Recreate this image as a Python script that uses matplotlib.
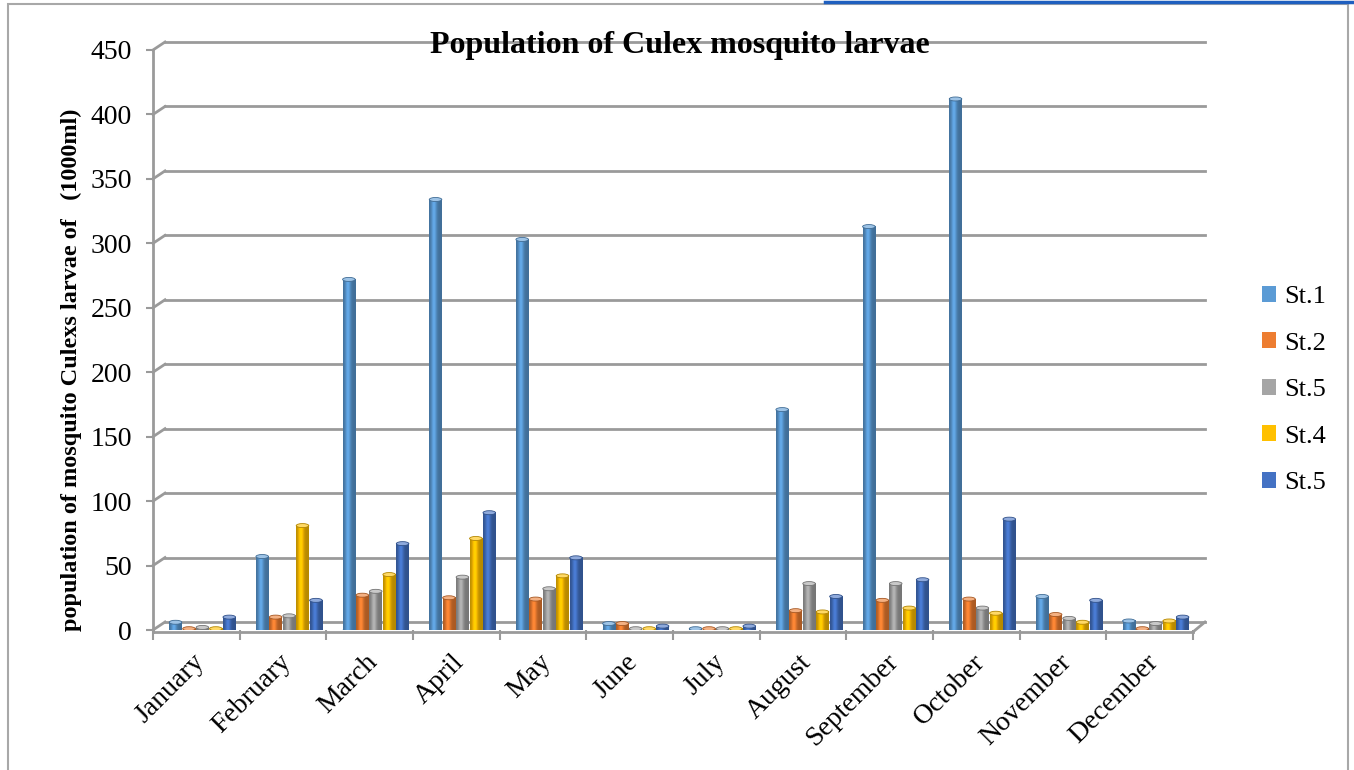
import matplotlib
matplotlib.use('Agg')
import matplotlib.pyplot as plt
import numpy as np
from matplotlib.patches import Ellipse, Rectangle, Patch
from matplotlib.lines import Line2D

plt.rcParams['font.family'] = ['Liberation Serif', 'DejaVu Serif']

months = ['January', 'February', 'March', 'April', 'May', 'June', 'July',
          'August', 'September', 'October', 'November', 'December']
stations = ['St.1', 'St.2', 'St.5', 'St.4', 'St.5']
colors = ['#5B9BD5', '#ED7D31', '#A5A5A5', '#FFC000', '#4472C4']

st1 = [6, 57, 272, 334, 303, 5, 1, 171, 313, 412, 26, 7]
st2 = [1, 10, 27, 25, 24, 5, 1, 15, 23, 24, 12, 1]
st5a = [2, 11, 30, 41, 32, 1, 1, 36, 36, 17, 9, 5]
st4 = [1, 81, 43, 71, 42, 1, 1, 14, 17, 13, 6, 7]
st5b = [10, 23, 67, 91, 56, 3, 3, 26, 39, 86, 23, 10]
series = [st1, st2, st5a, st4, st5b]

W, H = 1354, 770
fig = plt.figure(figsize=(W / 100, H / 100), dpi=100)
ax = fig.add_axes([153 / W, (H - 630) / H, (1193 - 153) / W, (630 - 50) / H])

ncat = len(months)
ymax = 450
# depth offset of the back wall, in data units (12 px right, 8 px up)
dx = 12 * ncat / 1040
dy = 8 * ymax / 580

grid_c = '#9a9a9a'
for v in range(0, ymax + 1, 50):
    ax.plot([dx, ncat + dx], [v + dy, v + dy], color=grid_c, lw=2, zorder=1, clip_on=False)
    ax.plot([0, dx], [v, v + dy], color=grid_c, lw=2, zorder=1, clip_on=False)

# floor and left wall edges
ax.plot([0, 0], [-1.5, ymax], color=grid_c, lw=2, zorder=1, clip_on=False)
ax.plot([0, ncat], [-1.5, -1.5], color=grid_c, lw=2, zorder=1, clip_on=False)
ax.plot([ncat, ncat + dx], [-1.5, dy], color=grid_c, lw=2, zorder=1, clip_on=False)


def shade(rgb, n=40):
    t = np.linspace(0, 1, n)
    f = 0.72 + 0.38 * np.exp(-((t - 0.38) / 0.22) ** 2)
    col = np.clip(np.outer(f, rgb), 0, 1)
    return col[np.newaxis, :, :]


bw = 0.145
step = 0.155
cap_h = 4 * ymax / 580
for k, (vals, c) in enumerate(zip(series, colors)):
    rgb = np.array(matplotlib.colors.to_rgb(c))
    grad = shade(rgb)
    dark = rgb * 0.7
    light = np.clip(rgb * 0.6 + 0.4, 0, 1)
    for i, v in enumerate(vals):
        xc = i + 0.5 + 0.07 + (k - 2) * step
        x0, x1 = xc - bw / 2, xc + bw / 2
        ax.imshow(grad, extent=[x0, x1, 0, v], aspect='auto',
                  interpolation='bilinear', zorder=3)
        ax.add_patch(Ellipse((xc, 0), bw, cap_h, facecolor=grad[0, 10], edgecolor='none', zorder=2.9))
        ax.add_patch(Ellipse((xc, v), bw, cap_h, facecolor=light,
                             edgecolor=dark, lw=0.6, zorder=3.1))

ax.set_xlim(0, ncat)
ax.set_ylim(0, ymax)
for s in ax.spines.values():
    s.set_visible(False)

ax.set_yticks(range(0, ymax + 1, 50))
ax.tick_params(axis='y', length=5, width=1.5, color=grid_c, pad=10, labelsize=20)
ax.set_xticks(range(ncat + 1))
ax.set_xticklabels([])
ax.tick_params(axis='x', which='major', length=7, width=1.5, color=grid_c, pad=0)
ax.set_xticks(np.arange(ncat) + 0.45, minor=True)
ax.set_xticklabels(months, minor=True, rotation=45, ha='right',
                   rotation_mode='anchor', fontsize=20)
ax.tick_params(axis='x', which='minor', length=0, pad=14)

ax.set_ylabel('population of mosquito Culexs larvae of   (1000ml)',
              fontsize=17.5, fontweight='bold')
ax.yaxis.set_label_coords(-0.068, 0.448)

fig.text(680 / W, 1 - 46 / H, 'Population of Culex mosquito larvae',
         ha='center', va='center', fontsize=23, fontweight='bold')

handles = [Patch(facecolor=c, edgecolor='none') for c in colors]
fig.legend(handles, stations, loc='center left',
           bbox_to_anchor=(1238 / W, 1 - 390 / H), frameon=False,
           fontsize=19, handlelength=0.55, handleheight=0.55,
           handletextpad=0.3, labelspacing=0.92)

# outer frame
fig.add_artist(Rectangle((8 / W, -0.02), (1348 - 8) / W, 1 - 4 / H + 0.02,
                         transform=fig.transFigure, fill=False,
                         edgecolor='#a8a8a8', lw=1.5))
fig.add_artist(Line2D([825 / W, 1.0], [1 - 1.5 / H, 1 - 1.5 / H],
                      transform=fig.transFigure, color='#1f5fbf', lw=2.5))

fig.savefig('out.png', dpi=100)
